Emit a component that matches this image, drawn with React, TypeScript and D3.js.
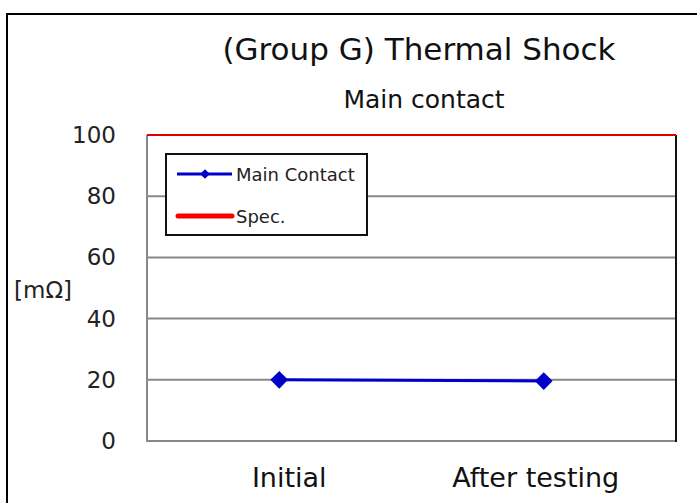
import React from "react";
import * as d3 from "d3";

const categories = ["Initial", "After testing"];
const mainContact = [20.0, 19.6];
const specValue = 100;
const yTicks = [0, 20, 40, 60, 80, 100];
const title = "(Group G) Thermal Shock";
const subtitle = "Main contact";
const yLabel = "[mΩ]";
const legendItems = ["Main Contact", "Spec."];

const W = 697;
const H = 503;
const M = { left: 147, right: 676, top: 135, bottom: 441 };
const FONT = "'DejaVu Sans', Verdana, sans-serif";

export default function App() {
  const x = d3.scaleBand<string>().domain(categories).range([M.left, M.right]);
  const y = d3.scaleLinear().domain([0, 100]).range([M.bottom, M.top]);
  const cx = (c: string) => (x(c) ?? 0) + x.bandwidth() / 2;
  const line = d3
    .line<number>()
    .x((_, i) => cx(categories[i]))
    .y((d) => y(d));
  const diamond = d3.symbol().type(d3.symbolDiamond2).size(200)();
  const legendDiamond = d3.symbol().type(d3.symbolDiamond2).size(60)();

  return (
    <svg
      width={W}
      height={H}
      style={{ position: "absolute", left: 0, top: 0, display: "block", background: "#fff" }}
      fontFamily={FONT}
    >
      <rect x={7} y={14} width={W + 20} height={H + 20} fill="#fff" stroke="#000" strokeWidth={2} />
      <text x={419} y={60} textAnchor="middle" fontSize={31} fill="#111">
        {title}
      </text>
      <text x={424} y={108} textAnchor="middle" fontSize={25} fill="#111">
        {subtitle}
      </text>
      {/* gridlines */}
      {yTicks
        .filter((t) => t !== 0 && t !== specValue)
        .map((t) => (
          <line key={t} x1={M.left} x2={M.right} y1={y(t)} y2={y(t)} stroke="#888" strokeWidth={2} />
        ))}
      {/* axes */}
      <line x1={M.left} x2={M.left} y1={M.top} y2={M.bottom} stroke="#888" strokeWidth={2} />
      <line x1={M.left - 1} x2={M.right} y1={M.bottom} y2={M.bottom} stroke="#888" strokeWidth={2} />
      <line x1={M.right} x2={M.right} y1={M.top} y2={M.bottom + 1} stroke="#111" strokeWidth={2} />
      {/* spec line */}
      <line x1={M.left} x2={M.right} y1={y(specValue)} y2={y(specValue)} stroke="#e00000" strokeWidth={2} />
      {/* y tick labels */}
      {yTicks.map((t) => (
        <text key={t} x={116} y={y(t) + 8} textAnchor="end" fontSize={23} fill="#222">
          {t}
        </text>
      ))}
      <text x={14} y={298} fontSize={23} fill="#222">
        {yLabel}
      </text>
      {/* x labels */}
      {categories.map((c) => (
        <text key={c} x={cx(c) + (c === "Initial" ? 10 : -8)} y={487} textAnchor="middle" fontSize={27} fill="#111">
          {c}
        </text>
      ))}
      {/* series */}
      <path d={line(mainContact) ?? ""} fill="none" stroke="#0000c8" strokeWidth={3} />
      {mainContact.map((v, i) => (
        <path key={i} d={diamond ?? ""} transform={`translate(${cx(categories[i])},${y(v)})`} fill="#0000c8" />
      ))}
      {/* legend */}
      <rect x={166} y={154} width={201} height={81} fill="#fff" stroke="#111" strokeWidth={2} />
      <line x1={177} x2={232} y1={174} y2={174} stroke="#0000c8" strokeWidth={3} />
      <path d={legendDiamond ?? ""} transform="translate(205,174)" fill="#0000c8" />
      <text x={236} y={181} fontSize={18} fill="#222">
        {legendItems[0]}
      </text>
      <line x1={178} x2={232} y1={216} y2={216} stroke="#ff0000" strokeWidth={5} strokeLinecap="round" />
      <text x={236} y={223} fontSize={18} fill="#222">
        {legendItems[1]}
      </text>
    </svg>
  );
}
